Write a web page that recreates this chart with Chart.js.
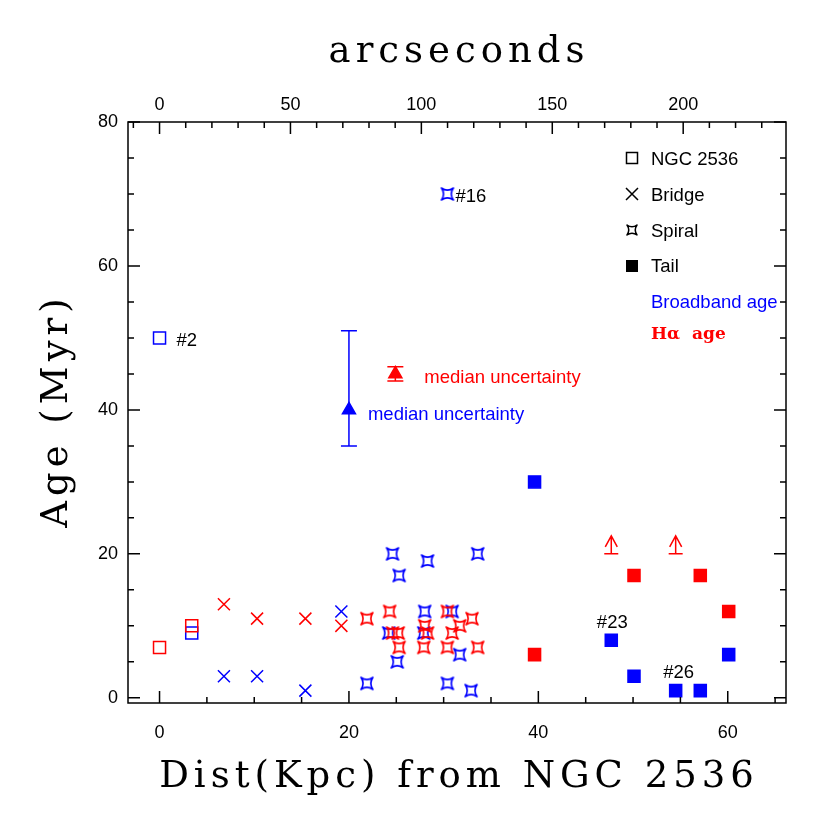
<!DOCTYPE html>
<html>
<head>
<meta charset="utf-8">
<script src="https://cdn.jsdelivr.net/npm/chart.js@4.4.1/dist/chart.umd.min.js"></script>
<style>
    html, body { margin: 0; padding: 0; background: #fff; }
    canvas { display: block; }
</style>
</head>
<body>
<canvas id="ageChart" width="830" height="830"></canvas>
<script>
// Ages of star-forming regions vs. distance from NGC 2536
// values (kpc, Myr)

// NGC 2536 (open squares)
const ngcBroadX = [0, 3.4];
const ngcBroadY = [50, 9];
const ngcHaX = [0, 3.4];
const ngcHaY = [7, 10];

// Bridge (crosses)
const bridgeBroadX = [6.8, 10.3, 15.4, 19.2];
const bridgeBroadY = [3, 3, 1, 12];
const bridgeHaX = [6.8, 10.3, 15.4, 19.2];
const bridgeHaY = [13, 11, 11, 10];

// Spiral (4-point stars)
const spiralBroadX = [30.4, 24.6, 28.3, 33.6, 25.3, 28.0, 30.9, 24.2, 27.9, 25.1, 31.7, 21.9, 30.4, 32.9];
const spiralBroadY = [70, 20, 19, 20, 17, 12, 12, 9, 9, 5, 6, 2, 2, 1];
const spiralHaX = [21.9, 24.3, 30.4, 33.0, 28.0, 31.7, 24.6, 25.2, 28.3, 30.9, 25.3, 27.9, 30.4, 33.6];
const spiralHaY = [11, 12, 12, 11, 10, 10, 9, 9, 9, 9, 7, 7, 7, 7];

// Tail (filled squares)
const tailBroadX = [39.6, 47.7, 50.1, 54.5, 57.1, 60.1];
const tailBroadY = [30, 8, 3, 1, 1, 6];
const tailHaX = [39.6, 50.1, 57.1, 60.1];
const tailHaY = [6, 17, 17, 12];

// H-alpha lower limits (arrows)
const haLimitX = [47.7, 54.5];
const haLimitY = [20, 20];

// median uncertainty markers: [x, y, minus, plus]
const medianBroad = [20, 40, 5, 11];
const medianHa = [24.9, 45, 1, 1];

// region labels
const labelText = ['#2', '#16', '#23', '#26'];
const labelX = [0, 30.4, 47.7, 54.5];
const labelY = [50, 70, 8, 1];

// axes
const xMin = -3.33, xMax = 66.15;
const yMin = -0.72, yMax = 80;
const xTickLabels = [0, 20, 40, 60];
const yTickLabels = [0, 20, 40, 60, 80];
const arcTickLabels = [0, 50, 100, 150, 200];
const ARCSEC_PER_KPC = 3.617;

const BLUE = '#0000ff';
const RED = '#ff0000';
const SANS = '"Liberation Sans", Arial, sans-serif';
const SERIF = '"DejaVu Serif", serif';

// concave square, points on the diagonals
function drawStar(ctx, x, y, h) {
    const c = 0.3 * h;
    ctx.save();
    ctx.lineJoin = 'round';
    ctx.beginPath();
    ctx.moveTo(x - h, y - h);
    ctx.quadraticCurveTo(x, y - c, x + h, y - h);
    ctx.quadraticCurveTo(x + c, y, x + h, y + h);
    ctx.quadraticCurveTo(x, y + c, x - h, y + h);
    ctx.quadraticCurveTo(x - c, y, x - h, y - h);
    ctx.closePath();
    ctx.stroke();
    ctx.restore();
}

function starImage(color) {
    const cv = document.createElement('canvas');
    cv.width = 18;
    cv.height = 18;
    const g = cv.getContext('2d');
    g.strokeStyle = color;
    g.lineWidth = 1.6;
    drawStar(g, 9, 9, 6);
    return cv;
}

const pts = (xs, ys) => xs.map((x, i) => ({ x: x, y: ys[i] }));

function markerSet(label, xs, ys, color, style, filled, order) {
    return {
        label: label,
        data: pts(xs, ys),
        order: order,
        pointStyle: style,
        pointRadius: style === 'triangle' ? 7.5 : 8.5,
        borderColor: color,
        backgroundColor: filled ? color : 'rgba(0,0,0,0)',
        pointBorderWidth: 1.5,
        showLine: false
    };
}

const datasets = [
    markerSet('NGC 2536 Hα', ngcHaX, ngcHaY, RED, 'rect', false, 0),
    markerSet('Bridge Hα', bridgeHaX, bridgeHaY, RED, 'crossRot', false, 0),
    markerSet('Spiral Hα', spiralHaX, spiralHaY, RED, starImage(RED), false, 0),
    markerSet('Tail Hα', tailHaX, tailHaY, RED, 'rect', true, 0),
    markerSet('Median Hα', [medianHa[0]], [medianHa[1]], RED, 'triangle', true, 0),
    markerSet('NGC 2536 broadband', ngcBroadX, ngcBroadY, BLUE, 'rect', false, 1),
    markerSet('Bridge broadband', bridgeBroadX, bridgeBroadY, BLUE, 'crossRot', false, 1),
    markerSet('Spiral broadband', spiralBroadX, spiralBroadY, BLUE, starImage(BLUE), false, 1),
    markerSet('Tail broadband', tailBroadX, tailBroadY, BLUE, 'rect', true, 1),
    markerSet('Median broadband', [medianBroad[0]], [medianBroad[1]], BLUE, 'triangle', true, 1)
];

// error bars, lower-limit arrows and labels inside the plot
const markupPlugin = {
    id: 'markup',
    afterDatasetsDraw(chart) {
        const { ctx, scales: { x, y } } = chart;
        ctx.save();
        ctx.lineWidth = 1.5;

        [[medianBroad, BLUE], [medianHa, RED]].forEach(([m, color]) => {
            const px = x.getPixelForValue(m[0]);
            const lo = y.getPixelForValue(m[1] - m[2]);
            const hi = y.getPixelForValue(m[1] + m[3]);
            ctx.strokeStyle = color;
            ctx.beginPath();
            ctx.moveTo(px, lo); ctx.lineTo(px, hi);
            ctx.moveTo(px - 8, lo); ctx.lineTo(px + 8, lo);
            ctx.moveTo(px - 8, hi); ctx.lineTo(px + 8, hi);
            ctx.stroke();
        });

        ctx.strokeStyle = RED;
        haLimitX.forEach((v, i) => {
            const px = x.getPixelForValue(v);
            const py = y.getPixelForValue(haLimitY[i]);
            ctx.beginPath();
            ctx.moveTo(px - 7, py); ctx.lineTo(px + 7, py);
            ctx.moveTo(px, py); ctx.lineTo(px, py - 18);
            ctx.moveTo(px - 6, py - 7); ctx.lineTo(px, py - 18); ctx.lineTo(px + 6, py - 7);
            ctx.stroke();
        });

        ctx.font = '18.5px ' + SANS;
        ctx.textBaseline = 'middle';
        ctx.fillStyle = RED;
        ctx.textAlign = 'left';
        ctx.fillText('median uncertainty', x.getPixelForValue(medianHa[0]) + 29, y.getPixelForValue(medianHa[1]) + 4);
        ctx.fillStyle = BLUE;
        ctx.fillText('median uncertainty', x.getPixelForValue(medianBroad[0]) + 19, y.getPixelForValue(medianBroad[1]) + 5);

        // label offsets: [dx, dy, align]
        const offs = [[17, 3, 'left'], [8, 3, 'left'], [1, -17, 'center'], [3, -18, 'center']];
        ctx.fillStyle = '#000';
        labelText.forEach((t, i) => {
            ctx.textAlign = offs[i][2];
            ctx.fillText(t, x.getPixelForValue(labelX[i]) + offs[i][0], y.getPixelForValue(labelY[i]) + offs[i][1]);
        });
        ctx.restore();
    }
};

// frame, inward ticks on all sides, tick labels, titles, legend
const framePlugin = {
    id: 'frame',
    afterDraw(chart) {
        const { ctx, chartArea: a, scales: { x, y, x2 } } = chart;
        ctx.save();
        ctx.strokeStyle = '#000';
        ctx.lineWidth = 1.5;
        ctx.strokeRect(a.left, a.top, a.right - a.left, a.bottom - a.top);

        ctx.beginPath();
        for (let v = Math.ceil(xMin / 5) * 5; v <= xMax; v += 5) {
            const px = x.getPixelForValue(v);
            const len = v % 20 === 0 ? 12 : 6;
            ctx.moveTo(px, a.bottom); ctx.lineTo(px, a.bottom - len);
        }
        for (let v = Math.ceil(x2.min / 10) * 10; v <= x2.max; v += 10) {
            const px = x2.getPixelForValue(v);
            const len = v % 50 === 0 ? 12 : 6;
            ctx.moveTo(px, a.top); ctx.lineTo(px, a.top + len);
        }
        for (let v = Math.ceil(yMin / 5) * 5; v <= yMax; v += 5) {
            const py = y.getPixelForValue(v);
            const len = v % 20 === 0 ? 12 : 6;
            ctx.moveTo(a.left, py); ctx.lineTo(a.left + len, py);
            ctx.moveTo(a.right, py); ctx.lineTo(a.right - len, py);
        }
        ctx.stroke();

        ctx.fillStyle = '#000';
        ctx.font = '18px ' + SANS;
        ctx.textBaseline = 'middle';
        ctx.textAlign = 'center';
        xTickLabels.forEach(v => ctx.fillText(String(v), x.getPixelForValue(v), a.bottom + 30));
        arcTickLabels.forEach(v => ctx.fillText(String(v), x2.getPixelForValue(v), a.top - 17));
        ctx.textAlign = 'right';
        yTickLabels.forEach(v => ctx.fillText(String(v), a.left - 10, y.getPixelForValue(v)));

        // axis titles
        ctx.font = '37px ' + SERIF;
        ctx.letterSpacing = '5px';
        ctx.textBaseline = 'alphabetic';
        ctx.textAlign = 'center';
        const cx = (a.left + a.right) / 2;
        ctx.fillText('arcseconds', cx + 2, 62);
        ctx.fillText('Dist(Kpc) from NGC 2536', cx + 2, 787);
        ctx.save();
        ctx.translate(67, (a.top + a.bottom) / 2);
        ctx.rotate(-Math.PI / 2);
        ctx.fillText('Age (Myr)', 2, 0);
        ctx.restore();
        ctx.letterSpacing = '0px';

        // legend
        const mx = a.right - 154, tx = a.right - 135;
        ctx.lineWidth = 1.5;
        ctx.strokeRect(mx - 5.5, 158 - 5.5, 11, 11);
        ctx.beginPath();
        ctx.moveTo(mx - 6, 188); ctx.lineTo(mx + 6, 200);
        ctx.moveTo(mx + 6, 188); ctx.lineTo(mx - 6, 200);
        ctx.stroke();
        drawStar(ctx, mx, 230, 5);
        ctx.fillRect(mx - 6, 266 - 6, 12, 12);

        ctx.font = '18.5px ' + SANS;
        ctx.textAlign = 'left';
        ctx.textBaseline = 'middle';
        ctx.fillText('NGC 2536', tx, 160);
        ctx.fillText('Bridge', tx, 196);
        ctx.fillText('Spiral', tx, 232);
        ctx.fillText('Tail', tx, 267);
        ctx.fillStyle = BLUE;
        ctx.fillText('Broadband age', tx, 303);
        ctx.fillStyle = RED;
        ctx.font = 'bold 17px ' + SERIF;
        ctx.fillText('Hα  age', tx, 335);
        ctx.restore();
    }
};

new Chart(document.getElementById('ageChart'), {
    type: 'scatter',
    data: { datasets: datasets },
    options: {
        responsive: false,
        animation: false,
        events: [],
        layout: { padding: { left: 128, top: 122, right: 44, bottom: 127 } },
        plugins: {
            legend: { display: false },
            tooltip: { enabled: false }
        },
        scales: {
            x: { type: 'linear', min: xMin, max: xMax, display: false },
            x2: { type: 'linear', axis: 'x', position: 'top', min: xMin * ARCSEC_PER_KPC, max: xMax * ARCSEC_PER_KPC, display: false },
            y: { type: 'linear', min: yMin, max: yMax, display: false }
        }
    },
    plugins: [markupPlugin, framePlugin]
});
</script>
</body>
</html>
